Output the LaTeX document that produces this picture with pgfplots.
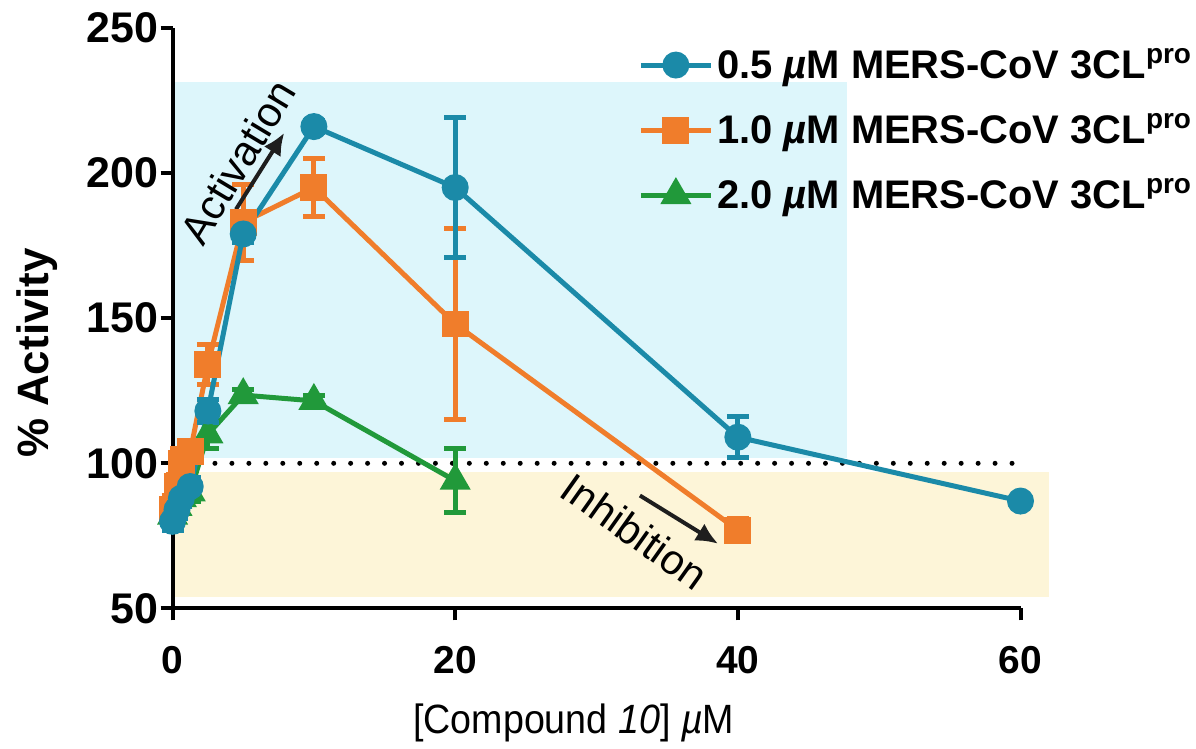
\documentclass[border=0pt]{standalone}
\usepackage{fontspec}
\setmainfont{Liberation Sans}
\usepackage{pgfplots}
\usepackage{pgfplotstable}
\pgfplotsset{compat=1.18}
\usetikzlibrary{arrows.meta}

\definecolor{cBlue}{HTML}{1B8AA8}
\definecolor{cOrange}{HTML}{F07D2B}
\definecolor{cGreen}{HTML}{21993A}
\definecolor{bgBlue}{HTML}{DDF6FB}
\definecolor{bgBeige}{HTML}{FDF5D8}
\definecolor{arrowInk}{HTML}{1E1E1E}

% concentration, % activity, error
\pgfplotstableread{
x y e
0 80 3
0.3125 84 3
0.625 88 3
1.25 92 3
2.5 118 4
5 179 3
10 216 2
20 195 24
40 109 7
60 87 1
}\halfuM

\pgfplotstableread{
x y e
0 84 5
0.3125 92 4
0.625 100 5
1.25 104 3
2.5 134 7
5 183 13
10 195 10
20 148 33
40 77 4
}\oneuM

\pgfplotstableread{
x y e
0 82 3
0.3125 85 3
0.625 88 3
1.25 90 3
2.5 110 5
5 123.5 2
10 121.5 2
20 94 11
}\twouM

\begin{document}
\begin{tikzpicture}
\begin{axis}[
  scale only axis,
  width=425pt, height=291pt,
  xmin=0, xmax=60, ymin=50, ymax=250,
  xtick={0,20,40,60}, ytick={50,100,150,200,250},
  axis x line=bottom, axis y line=left,
  axis line style={-, line width=2pt},
  every tick/.style={black, line width=2pt},
  tick align=outside, major tick length=6pt,
  clip=false,
  /pgf/number format/assume math mode=true,
  yticklabel style={font=\fontsize{21.5}{21.5}\selectfont\bfseries, inner sep=1pt},
  xticklabel style={font=\fontsize{19.5}{19.5}\selectfont\bfseries, inner sep=0pt, yshift=-13pt},
  ylabel={\fontsize{22}{22}\selectfont\bfseries\% Activity},
  ylabel style={at={(rel axis cs:-0.16,0.44)}, anchor=center},
  xlabel={\scalebox{0.92}[1]{\fontsize{20.5}{20.5}\selectfont[Compound \textit{10}] \textit{µ}M}},
  xlabel style={at={(rel axis cs:0.473,-0.197)}, anchor=center},
  legend style={at={(rel axis cs:0.549,0.972)}, anchor=north west, draw=none, fill=none,
    font=\fontsize{20}{21}\selectfont\bfseries, row sep=12pt, inner sep=0pt,
    cells={anchor=west}},
  reverse legend,
  legend image code/.code={\draw[mark repeat=2, mark phase=2, #1]
    plot coordinates {(0pt,0pt) (17.5pt,0pt) (35pt,0pt)};},
  every axis plot/.append style={line width=2.5pt},
  error bars/y dir=both, error bars/y explicit,
  error bars/error bar style={line width=2.5pt},
  error bars/error mark options={rotate=90, mark size=5.5pt, line width=2.5pt},
]
% shaded regions: activation (blue) and inhibition (beige)
\fill[bgBlue] (axis cs:0.15,102) rectangle (axis cs:47.7,231.5);
\fill[bgBeige] (axis cs:0.15,54) rectangle (axis cs:62,97);
% 100 % reference line
\draw[black, line width=2.5pt, line cap=round, dash pattern=on 0pt off 8.5pt]
  (axis cs:0.6,100) -- (axis cs:60.5,100);

% drawn from highest to lowest enzyme concentration so 0.5 uM lies on top
\addplot[cGreen, mark=triangle*, mark size=6.5pt, mark options={solid}]
  table[x=x, y=y, y error=e] {\twouM};
\addlegendentry{2.0 \textit{µ}M MERS-CoV 3CL\textsuperscript{pro}}
\addplot[cOrange, mark=square*, mark size=5.5pt, mark options={solid}]
  table[x=x, y=y, y error=e] {\oneuM};
\addlegendentry{1.0 \textit{µ}M MERS-CoV 3CL\textsuperscript{pro}}
\addplot[cBlue, mark=*, mark size=5.5pt, mark options={solid}]
  table[x=x, y=y, y error=e] {\halfuM};
\addlegendentry{0.5 \textit{µ}M MERS-CoV 3CL\textsuperscript{pro}}

% annotations
\node[rotate=59, font=\fontsize{21}{21}\selectfont] at (axis cs:4.59,203.9) {Activation};
\draw[arrowInk, line width=2pt, -{Latex[length=11pt, width=10pt]}]
  (axis cs:4.49,187.5) -- (axis cs:7.9,213.8);
\node[rotate=-35.4, font=\fontsize{21}{21}\selectfont] at (axis cs:32.7,76.5) {Inhibition};
\draw[arrowInk, line width=2pt, -{Latex[length=11pt, width=10pt]}]
  (axis cs:33.07,88.9) -- (axis cs:38.6,72.3);

% page extent
\path (rel axis cs:-0.2035,-0.2337) rectangle (rel axis cs:1.2035,1.048);
\end{axis}
\end{tikzpicture}
\end{document}
